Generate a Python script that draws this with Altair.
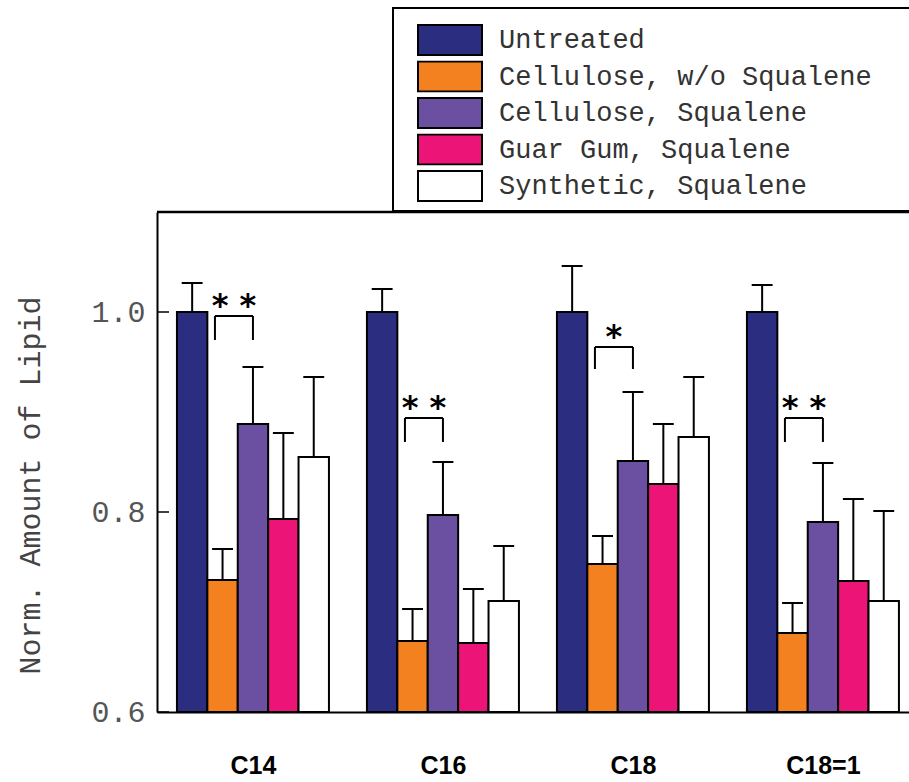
import altair as alt
import pandas as pd

# ---------------- data ----------------
categories = ["C14", "C16", "C18", "C18=1"]
series = ["Untreated", "Cellulose, w/o Squalene", "Cellulose, Squalene",
          "Guar Gum, Squalene", "Synthetic, Squalene"]
colors = ["#2b2e80", "#f3811f", "#6b4fa0", "#ec1577", "#ffffff"]

means = {
    "Untreated":               [1.000, 1.000, 1.000, 1.000],
    "Cellulose, w/o Squalene": [0.732, 0.671, 0.748, 0.679],
    "Cellulose, Squalene":     [0.888, 0.797, 0.851, 0.790],
    "Guar Gum, Squalene":      [0.793, 0.669, 0.828, 0.731],
    "Synthetic, Squalene":     [0.855, 0.711, 0.875, 0.711],
}
errors = {
    "Untreated":               [0.029, 0.023, 0.046, 0.027],
    "Cellulose, w/o Squalene": [0.031, 0.032, 0.028, 0.030],
    "Cellulose, Squalene":     [0.057, 0.053, 0.069, 0.059],
    "Guar Gum, Squalene":      [0.086, 0.054, 0.060, 0.082],
    "Synthetic, Squalene":     [0.080, 0.055, 0.060, 0.090],
}

# significance brackets (between "Cellulose, w/o Squalene" and "Cellulose, Squalene")
sig_labels = ["* *", "* *", "*", "* *"]
bracket_top = [0.996, 0.894, 0.965, 0.894]
bracket_bottom = [0.972, 0.870, 0.943, 0.870]

y_ticks = [0.6, 0.8, 1.0]
y_min, y_max = 0.6, 1.1

# ---------------- layout parameters ----------------
BAR_W = 0.16      # bar width in group units
CAP = 0.055       # half cap width
BR_L, BR_R = -0.20, 0.0   # bracket leg offsets from group center
PLOT_W, PLOT_H = 752, 500
LEG_X, LEG_Y = 236, -204

rows = []
for si, s in enumerate(series):
    for ci, c in enumerate(categories):
        xc = ci + (si - 2) * BAR_W
        m = means[s][ci]
        rows.append(dict(cat=c, series=s, xc=xc,
                         xl=xc - BAR_W / 2, xr=xc + BAR_W / 2,
                         value=m, base=y_min, top=m + errors[s][ci],
                         cl=xc - CAP, cr=xc + CAP))
df = pd.DataFrame(rows)

seg = []
txt = []
for ci, c in enumerate(categories):
    l, r = ci + BR_L, ci + BR_R
    t, b = bracket_top[ci], bracket_bottom[ci]
    seg.append(dict(x=l, x2=r, y=t, y2=t))
    seg.append(dict(x=l, x2=l, y=b, y2=t))
    seg.append(dict(x=r, x2=r, y=b, y2=t))
    txt.append(dict(x=(l + r) / 2, y=t, label=sig_labels[ci]))
seg_df = pd.DataFrame(seg)
txt_df = pd.DataFrame(txt)
tick_df = pd.DataFrame({"v": y_ticks})

label_expr = "[" + ",".join("'%s'" % c for c in categories) + "][datum.value]"

xscale = alt.Scale(domain=[-0.505, 3.453], nice=False, zero=False)
yscale = alt.Scale(domain=[y_min, y_max], nice=False, zero=False)

x_axis = alt.Axis(values=list(range(len(categories))), labelExpr=label_expr,
                  title=None, ticks=False, grid=False,
                  labelFont="Liberation Sans", labelFontWeight="bold",
                  labelFontSize=25, labelColor="black", labelPadding=41,
                  domainColor="black", domainWidth=2)
y_axis = alt.Axis(values=y_ticks, format=".1f", title="Norm. Amount of Lipid",
                  ticks=False, grid=False, labelFont="Liberation Mono",
                  labelFontSize=30, labelColor="#555555", labelPadding=12,
                  titleFont="Liberation Mono", titleFontSize=30,
                  titleFontWeight="normal", titleColor="#444444",
                  titlePadding=45, titleY=273,
                  domainColor="black", domainWidth=2)

# legend frame (extends past the right edge, as in the original)
legend_box = alt.Chart(tick_df.head(1)).mark_rect(
    fill="white", stroke="black", strokeWidth=2, clip=False).encode(
    x=alt.value(LEG_X), x2=alt.value(PLOT_W + 60),
    y=alt.value(LEG_Y), y2=alt.value(-1))

bars = alt.Chart(df).mark_bar(stroke="black", strokeWidth=2).encode(
    x=alt.X("xl:Q", scale=xscale, axis=x_axis),
    x2="xr:Q",
    y=alt.Y("value:Q", scale=yscale, axis=y_axis),
    y2="base:Q",
    color=alt.Color("series:N",
                    scale=alt.Scale(domain=series, range=colors),
                    legend=alt.Legend(
                        title=None, orient="none", legendX=LEG_X, legendY=LEG_Y,
                        symbolType="M-1,-0.47L1,-0.47L1,0.47L-1,0.47Z",
                        symbolSize=4096, symbolStrokeColor="black",
                        symbolStrokeWidth=2, clipHeight=32, rowPadding=4.5,
                        labelOffset=16, labelFont="Liberation Mono",
                        labelFontSize=27, labelColor="#333333", labelLimit=900,
                        padding=16, symbolOffset=8)),
)

err_v = alt.Chart(df).mark_rule(color="black", strokeWidth=2).encode(
    x="xc:Q", y="value:Q", y2="top:Q")
err_cap = alt.Chart(df).mark_rule(color="black", strokeWidth=2).encode(
    x="cl:Q", x2="cr:Q", y="top:Q")

brackets = alt.Chart(seg_df).mark_rule(color="black", strokeWidth=2).encode(
    x="x:Q", x2="x2:Q", y="y:Q", y2="y2:Q")
stars = alt.Chart(txt_df).mark_text(font="DejaVu Sans", fontWeight="bold",
                                    fontSize=32, baseline="alphabetic",
                                    align="center", dy=0, color="black").encode(
    x="x:Q", y="y:Q", text="label:N")

yticks = alt.Chart(tick_df).mark_rule(color="black", strokeWidth=1.5).encode(
    x=alt.value(0), x2=alt.value(12), y="v:Q")

top_border = alt.Chart(tick_df.head(1)).mark_rule(color="black", strokeWidth=2.5).encode(
    x=alt.value(0), x2=alt.value(PLOT_W), y=alt.value(0))

chart = alt.layer(bars, err_v, err_cap, brackets, stars, yticks, top_border,
                  legend_box).properties(
    width=PLOT_W, height=PLOT_H,
    padding={"left": 157, "top": 212, "right": 0, "bottom": 70},
    autosize=alt.AutoSizeParams(type="none"),
).configure_view(stroke=None).configure(background="white")

chart.save("out.html", embed_options={"renderer": "svg", "actions": False})
